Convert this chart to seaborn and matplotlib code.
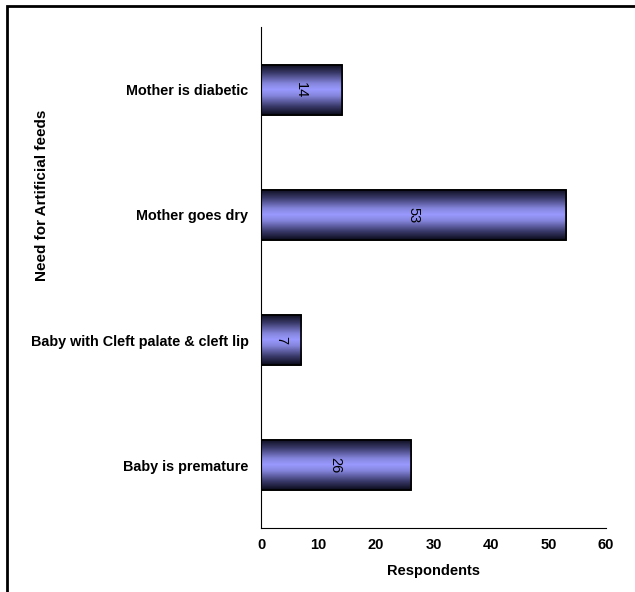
import matplotlib
matplotlib.use("Agg")

import matplotlib.pyplot as plt
import numpy as np
import pandas as pd
import seaborn as sns
from matplotlib.colors import LinearSegmentedColormap
from matplotlib.patches import Rectangle

# data, top to bottom as drawn
reasons = ["Mother is diabetic", "Mother goes dry",
           "Baby with Cleft palate & cleft lip", "Baby is premature"]
respondents = [14, 53, 7, 26]
x_ticks = [0, 10, 20, 30, 40, 50, 60]

df = pd.DataFrame({"reason": reasons, "respondents": respondents})

sns.set_style("white")
plt.rcParams["font.family"] = ["Liberation Sans", "DejaVu Sans"]
plt.rcParams.update({"text.color": "black", "axes.labelcolor": "black",
                     "xtick.color": "black", "ytick.color": "black"})

fig = plt.figure(figsize=(6.35, 5.92), dpi=100)
ax = fig.add_axes([261 / 635, 1 - 528 / 592, 345 / 635, 501 / 592])

sns.barplot(data=df, x="respondents", y="reason", orient="h", width=0.4,
            color="#9999ff", edgecolor="black", linewidth=1.2, ax=ax)

# vertical shading on each bar: dark edges, light middle
shade = LinearSegmentedColormap.from_list(
    "shade", [(0.0, "#0a0a1a"), (0.18, "#3c3c6e"), (0.38, "#8585dd"),
              (0.5, "#9999ff"), (0.62, "#8585dd"), (0.82, "#3c3c6e"),
              (1.0, "#0a0a1a")])
grad = np.linspace(0, 1, 256).reshape(-1, 1)
for bar in ax.patches:
    x0, y0 = bar.get_x(), bar.get_y()
    w, h = bar.get_width(), bar.get_height()
    im = ax.imshow(grad, cmap=shade, aspect="auto", interpolation="bicubic",
                   extent=(x0, x0 + w, y0 + h, y0), zorder=bar.get_zorder() + 0.1)
    im.set_clip_path(bar)
    ax.add_patch(Rectangle((x0, y0), w, h, fill=False, edgecolor="black",
                           linewidth=1.2, zorder=bar.get_zorder() + 0.2))
    ax.text(x0 + w / 2, y0 + h / 2, f"{w:.0f}", rotation=270,
            ha="center", va="center", fontsize=10.5, color="black", zorder=5)

ax.set_xlim(0, 60)
ax.set_ylim(3.5, -0.5)
ax.set_xticks(x_ticks)
ax.set_xticklabels([str(t) for t in x_ticks], fontsize=10.5, fontweight="bold")
ax.set_yticks(range(len(reasons)))
ax.set_yticklabels(reasons, fontsize=10.4, fontweight="bold")
ax.tick_params(axis="x", direction="out", length=4, width=0.8, color="black", pad=3)
ax.tick_params(axis="y", length=0, pad=9)

ax.set_xlabel("Respondents", fontsize=10.5, fontweight="bold", labelpad=9)
ax.set_ylabel("")
fig.text(42 / 635, 1 - 195 / 592, "Need for Artificial feeds", rotation=90,
         ha="center", va="center", fontsize=11, fontweight="bold")

sns.despine(ax=ax, top=True, right=True)
for side in ("left", "bottom"):
    ax.spines[side].set_color("black")
    ax.spines[side].set_linewidth(0.8)

# outer frame, cut off at right and bottom like the source image
fig.patches.append(Rectangle((7 / 635, -0.1), 1.2, 1 - 6 / 592 + 0.1,
                             transform=fig.transFigure, fill=False,
                             edgecolor="black", linewidth=2.0, zorder=10))

fig.savefig("out.png", dpi=100)
